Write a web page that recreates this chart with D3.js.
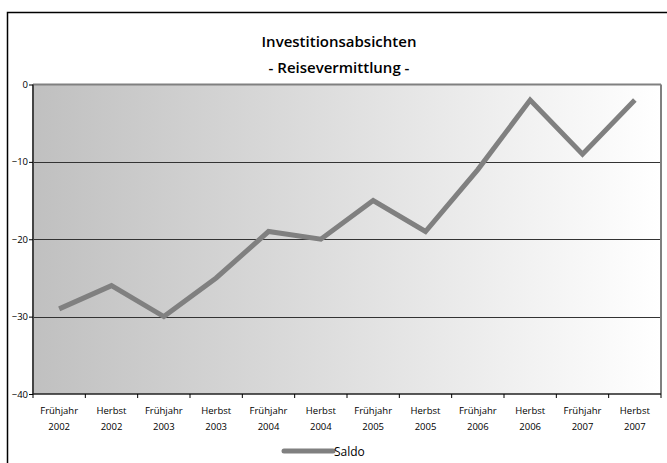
<!DOCTYPE html>
<html><head><meta charset="utf-8">
<script src="https://cdn.jsdelivr.net/npm/d3@7"></script>
<style>body{margin:0;background:#fff}svg{display:block}</style>
</head><body>
<svg id="c" width="667" height="463"></svg>
<script>
const categories = ["Frühjahr 2002","Herbst 2002","Frühjahr 2003","Herbst 2003","Frühjahr 2004","Herbst 2004","Frühjahr 2005","Herbst 2005","Frühjahr 2006","Herbst 2006","Frühjahr 2007","Herbst 2007"];
const saldo = [-29,-26,-30,-25,-19,-20,-15,-19,-11,-2,-9,-2];
const yTicks = [0,-10,-20,-30,-40];
const titleLines = ["Investitionsabsichten","- Reisevermittlung -"];
const seriesName = "Saldo";

const svg = d3.select("#c");
const font = "'Open Sans', sans-serif";
// outer frame
svg.append("rect").attr("x",7.5).attr("y",12.5).attr("width",700).attr("height",500)
  .attr("fill","#fff").attr("stroke","#000").attr("stroke-width",1.5);

const L=33, R=661, T=84.5, B=394;
const x = d3.scaleBand().domain(categories).range([L,R]);
const y = d3.scaleLinear().domain([-40,0]).range([B,T]);

const defs = svg.append("defs");
const g = defs.append("linearGradient").attr("id","bg").attr("x1","0").attr("x2","1").attr("y1","0").attr("y2","0");
g.append("stop").attr("offset","0").attr("stop-color","#c0c0c0");
g.append("stop").attr("offset","1").attr("stop-color","#ffffff");

svg.append("rect").attr("x",L).attr("y",T).attr("width",R-L).attr("height",B-T).attr("fill","url(#bg)");

// gridlines
svg.append("g").selectAll("line").data(yTicks.filter(d=>d>-40 && d<0)).join("line")
  .attr("x1",L).attr("x2",R).attr("y1",d=>Math.round(y(d))+0.5).attr("y2",d=>Math.round(y(d))+0.5)
  .attr("stroke","#333").attr("stroke-width",1);

// plot border: top and right gray
svg.append("line").attr("x1",L).attr("x2",R).attr("y1",T).attr("y2",T).attr("stroke","#808080").attr("stroke-width",2);
svg.append("line").attr("x1",R).attr("x2",R).attr("y1",T).attr("y2",B).attr("stroke","#808080").attr("stroke-width",2);

// y axis
const yAxis = d3.axisLeft(y).tickValues(yTicks).tickSize(4).tickFormat(d3.format("d"));
const ya = svg.append("g").attr("transform",`translate(${L},0)`).call(yAxis);
ya.select(".domain").attr("stroke","#444").attr("stroke-width",2).attr("d",`M0,${T}V${B}`);
ya.selectAll(".tick line").attr("stroke","#000");
ya.selectAll("text").attr("font-family",font).attr("font-size",9.5).attr("fill","#000").attr("x",-5);

// x axis
const xa = svg.append("g").attr("transform",`translate(0,${B})`);
xa.append("line").attr("x1",L).attr("x2",R).attr("y1",0).attr("y2",0).attr("stroke","#222").attr("stroke-width",1.5);
const bounds = categories.map(c=>x(c)).concat([R]);
xa.selectAll("line.t").data(bounds).join("line").attr("class","t")
  .attr("x1",d=>d).attr("x2",d=>d).attr("y1",0).attr("y2",4).attr("stroke","#000");
const lab = xa.selectAll("text").data(categories).join("text")
  .attr("x",d=>x(d)+x.bandwidth()/2).attr("text-anchor","middle")
  .attr("font-family",font).attr("font-size",9.5).attr("fill","#000");
lab.append("tspan").attr("x",d=>x(d)+x.bandwidth()/2).attr("y",20).text(d=>d.split(" ")[0]);
lab.append("tspan").attr("x",d=>x(d)+x.bandwidth()/2).attr("y",36).text(d=>d.split(" ")[1]);

// line
const line = d3.line().x((d,i)=>x(categories[i])+x.bandwidth()/2).y(d=>y(d));
svg.append("path").datum(saldo).attr("d",line).attr("fill","none")
  .attr("stroke","#808080").attr("stroke-width",5).attr("stroke-linejoin","miter");

// title
svg.append("g").selectAll("text").data(titleLines).join("text")
  .attr("x",339).attr("y",(d,i)=>47+i*26).attr("text-anchor","middle")
  .attr("font-family",font).attr("font-weight",600).attr("font-size",15).attr("fill","#000").text(d=>d);

// legend
svg.append("line").attr("x1",284).attr("x2",333).attr("y1",451).attr("y2",451)
  .attr("stroke","#808080").attr("stroke-width",5).attr("stroke-linecap","round");
svg.append("text").attr("x",334).attr("y",456).attr("font-family",font).attr("font-size",12).attr("fill","#000").text(seriesName);
</script>
</body></html>
